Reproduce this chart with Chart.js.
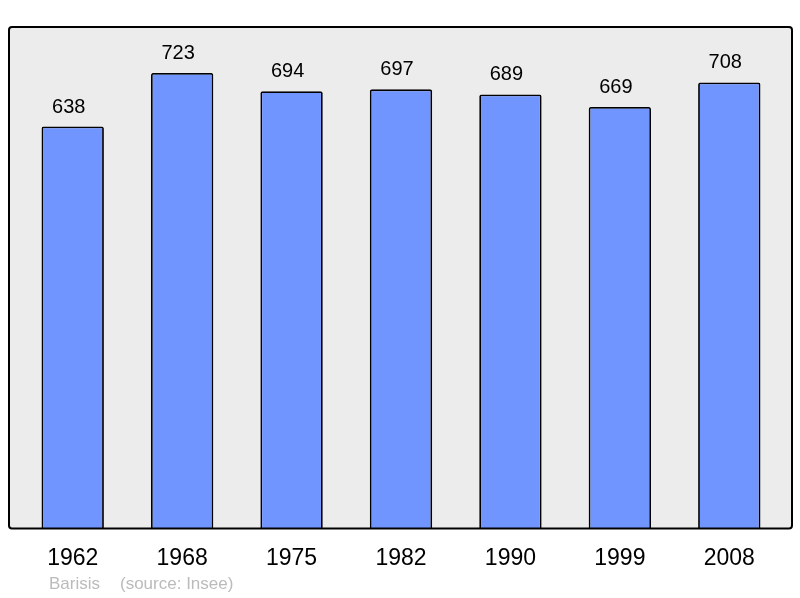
<!DOCTYPE html>
<html lang="fr">
<head>
  <meta charset="UTF-8">
  <title>Population 1962-2008</title>
  <script src="https://cdn.jsdelivr.net/npm/chart.js@4"></script>
  <style>
    html, body { margin: 0; padding: 0; background: #ffffff; }
    #wrap { width: 800px; height: 598px; position: relative; }
  </style>
</head>
<body>
  <div id="wrap"><canvas id="chart"></canvas></div>
  <script>
    // Census years and population values
    var years = ["1962", "1968", "1975", "1982", "1990", "1999", "2008"];
    var population = [638, 723, 694, 697, 689, 669, 708];
    var footerAuthor = "Barisis";
    var footerSource = "(source: Insee)";

    /* Grey frame behind the bars */
    var framePlugin = {
      id: "frame",
      beforeDraw: function(chart) {
        var a = chart.chartArea;
        var ctx = chart.ctx;
        var x0 = a.left - 9, x1 = a.right + 8, y0 = a.top, y1 = a.bottom;
        ctx.save();
        ctx.beginPath();
        ctx.roundRect(x0, y0, x1 - x0, y1 - y0, 3);
        ctx.fillStyle = "#ececec";
        ctx.fill();
        ctx.restore();
      },
      afterDatasetsDraw: function(chart) {
        var a = chart.chartArea;
        var ctx = chart.ctx;
        var x0 = a.left - 9, x1 = a.right + 8, y0 = a.top, y1 = a.bottom;
        ctx.save();
        ctx.beginPath();
        ctx.roundRect(x0, y0, x1 - x0, y1 - y0, 3);
        ctx.lineWidth = 2;
        ctx.strokeStyle = "#000000";
        ctx.stroke();
        ctx.restore();
      }
    };

    /* Value labels above each bar, plus the footer line */
    var labelPlugin = {
      id: "valueLabels",
      afterDraw: function(chart) {
        var ctx = chart.ctx;
        var meta = chart.getDatasetMeta(0);
        ctx.save();
        ctx.font = "20px 'Liberation Sans', Arial, sans-serif";
        ctx.fillStyle = "#000000";
        ctx.textAlign = "center";
        ctx.textBaseline = "alphabetic";
        meta.data.forEach(function(bar, i) {
          ctx.fillText(String(population[i]), bar.x - 4, bar.y - 14);
        });
        ctx.font = "17px 'Liberation Sans', Arial, sans-serif";
        ctx.fillStyle = "#bbbbbb";
        ctx.textBaseline = "middle";
        ctx.textAlign = "left";
        ctx.fillText(footerAuthor, 49, 584);
        ctx.fillText(footerSource, 120, 584);
        ctx.restore();
      }
    };

    new Chart(document.getElementById("chart"), {
      type: "bar",
      data: {
        labels: years,
        datasets: [{
          data: population,
          backgroundColor: "#7095ff",
          borderColor: "#000000",
          borderWidth: 1.8,
          borderRadius: 2,
          borderSkipped: "bottom",
          barPercentage: 0.57,
          categoryPercentage: 1.0
        }]
      },
      options: {
        responsive: true,
        maintainAspectRatio: false,
        animation: false,
        devicePixelRatio: 1,
        layout: { padding: { left: 18, right: 16, top: 27, bottom: 10 } },
        plugins: {
          legend: { display: false },
          tooltip: { enabled: false }
        },
        scales: {
          x: {
            grid: { display: false, drawTicks: false },
            border: { display: false },
            ticks: {
              color: "#000000",
              padding: 16,
              font: { size: 23, family: "'Liberation Sans', Arial, sans-serif" }
            }
          },
          y: {
            display: false,
            min: 0,
            max: 796
          }
        }
      },
      plugins: [framePlugin, labelPlugin]
    });
  </script>
</body>
</html>
